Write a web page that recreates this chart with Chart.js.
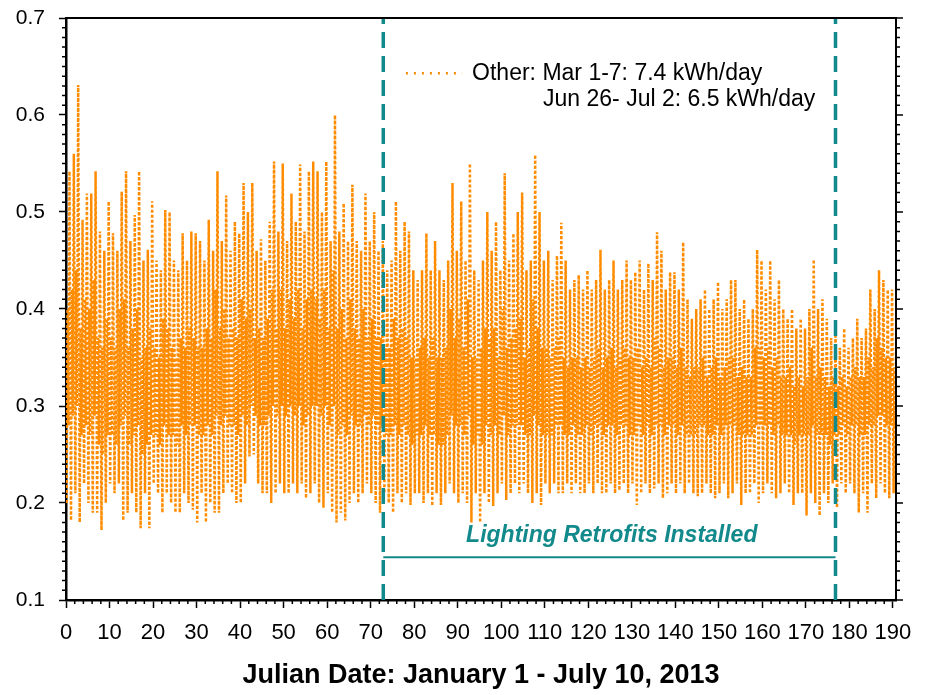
<!DOCTYPE html>
<html>
<head>
<meta charset="utf-8">
<script src="https://cdn.jsdelivr.net/npm/chart.js@4.4.1/dist/chart.umd.min.js"></script>
<style>
  html, body { margin: 0; padding: 0; background: #fff; }
  #wrap { width: 927px; height: 695px; position: relative; }
</style>
</head>
<body>
<div id="wrap"><canvas id="otherChart"></canvas></div>
<script>
// Daily readings (Julian day 0 .. 190), kW
const dayLow = [
  0.200,0.182,0.210,0.180,0.220,0.200,0.190,0.190,0.172,0.200,
  0.220,0.210,0.220,0.182,0.190,0.210,0.190,0.174,0.210,0.174,
  0.220,0.210,0.190,0.210,0.200,0.190,0.190,0.210,0.200,0.193,
  0.180,0.210,0.180,0.200,0.190,0.190,0.210,0.220,0.210,0.200,
  0.200,0.220,0.248,0.250,0.220,0.210,0.210,0.200,0.210,0.220,
  0.210,0.210,0.220,0.210,0.220,0.205,0.210,0.220,0.200,0.195,
  0.210,0.190,0.180,0.190,0.182,0.200,0.210,0.200,0.210,0.220,
  0.210,0.200,0.190,0.210,0.200,0.190,0.210,0.200,0.210,0.198,
  0.210,0.210,0.200,0.210,0.197,0.210,0.198,0.210,0.220,0.210,
  0.200,0.210,0.200,0.180,0.210,0.180,0.210,0.200,0.197,0.210,
  0.220,0.203,0.210,0.220,0.210,0.220,0.210,0.200,0.210,0.198,
  0.220,0.210,0.220,0.210,0.210,0.220,0.210,0.220,0.210,0.210,
  0.220,0.210,0.220,0.210,0.210,0.220,0.210,0.213,0.220,0.210,
  0.220,0.198,0.210,0.220,0.210,0.215,0.220,0.205,0.210,0.220,
  0.210,0.220,0.210,0.220,0.210,0.207,0.210,0.220,0.210,0.205,
  0.210,0.220,0.205,0.210,0.220,0.198,0.210,0.210,0.220,0.200,
  0.210,0.220,0.210,0.205,0.210,0.220,0.210,0.198,0.210,0.210,
  0.187,0.210,0.200,0.187,0.210,0.200,0.220,0.195,0.220,0.210,
  0.220,0.210,0.190,0.210,0.190,0.220,0.205,0.220,0.210,0.205,0.210
];
const dayMorning = [
  0.40,0.42,0.44,0.38,0.41,0.40,0.43,0.37,0.36,0.39,
  0.37,0.36,0.40,0.41,0.36,0.38,0.40,0.35,0.36,0.38,
  0.36,0.35,0.39,0.38,0.36,0.35,0.37,0.36,0.38,0.37,
  0.36,0.36,0.38,0.37,0.42,0.38,0.40,0.37,0.38,0.37,
  0.41,0.39,0.40,0.37,0.38,0.37,0.39,0.42,0.38,0.42,
  0.38,0.41,0.39,0.42,0.38,0.41,0.42,0.41,0.39,0.42,
  0.38,0.44,0.38,0.40,0.37,0.41,0.38,0.37,0.40,0.37,
  0.39,0.37,0.37,0.36,0.36,0.39,0.37,0.38,0.37,0.35,
  0.35,0.36,0.37,0.35,0.37,0.35,0.35,0.36,0.40,0.37,
  0.39,0.36,0.41,0.35,0.35,0.36,0.38,0.37,0.38,0.35,
  0.40,0.36,0.37,0.38,0.39,0.35,0.36,0.41,0.38,0.36,
  0.36,0.35,0.36,0.37,0.35,0.34,0.35,0.35,0.34,0.35,
  0.34,0.35,0.36,0.34,0.35,0.36,0.34,0.35,0.36,0.35,
  0.35,0.36,0.34,0.35,0.34,0.37,0.36,0.34,0.35,0.35,
  0.34,0.36,0.34,0.33,0.34,0.34,0.35,0.33,0.34,0.35,
  0.33,0.34,0.35,0.35,0.33,0.34,0.33,0.33,0.36,0.36,
  0.35,0.36,0.34,0.35,0.33,0.33,0.34,0.32,0.33,0.32,
  0.33,0.36,0.33,0.34,0.33,0.32,0.33,0.32,0.33,0.32,
  0.33,0.34,0.33,0.33,0.35,0.34,0.37,0.36,0.35,0.35,0.34
];
const dayMidday = [
  0.28,0.29,0.30,0.27,0.28,0.27,0.29,0.26,0.25,0.27,
  0.27,0.26,0.28,0.29,0.26,0.27,0.28,0.25,0.26,0.27,
  0.27,0.26,0.28,0.27,0.27,0.26,0.28,0.27,0.28,0.28,
  0.27,0.27,0.28,0.27,0.29,0.28,0.29,0.28,0.28,0.27,
  0.29,0.28,0.30,0.29,0.28,0.28,0.29,0.30,0.29,0.30,
  0.29,0.30,0.29,0.30,0.28,0.29,0.30,0.30,0.29,0.30,
  0.28,0.30,0.27,0.28,0.27,0.29,0.28,0.28,0.29,0.28,
  0.29,0.28,0.28,0.27,0.27,0.28,0.27,0.28,0.27,0.26,
  0.27,0.27,0.28,0.27,0.27,0.26,0.26,0.27,0.29,0.28,
  0.28,0.27,0.29,0.26,0.27,0.26,0.28,0.27,0.28,0.27,
  0.29,0.27,0.28,0.28,0.28,0.27,0.27,0.29,0.28,0.27,
  0.27,0.27,0.28,0.28,0.27,0.27,0.28,0.27,0.27,0.28,
  0.27,0.28,0.28,0.27,0.28,0.28,0.27,0.28,0.28,0.27,
  0.27,0.28,0.27,0.28,0.27,0.28,0.28,0.27,0.28,0.28,
  0.27,0.28,0.27,0.27,0.27,0.28,0.28,0.27,0.27,0.28,
  0.27,0.28,0.28,0.28,0.27,0.27,0.27,0.27,0.28,0.28,
  0.28,0.28,0.27,0.28,0.27,0.27,0.27,0.26,0.27,0.27,
  0.27,0.28,0.27,0.27,0.27,0.26,0.27,0.27,0.28,0.27,
  0.28,0.28,0.27,0.27,0.28,0.28,0.29,0.29,0.28,0.28,0.28
];
const dayHigh = [
  0.542,0.560,0.631,0.492,0.519,0.519,0.542,0.480,0.460,0.511,
  0.478,0.460,0.521,0.542,0.470,0.497,0.542,0.450,0.461,0.511,
  0.450,0.440,0.502,0.500,0.450,0.440,0.478,0.450,0.480,0.478,
  0.470,0.450,0.492,0.460,0.542,0.470,0.517,0.460,0.490,0.478,
  0.530,0.500,0.530,0.460,0.472,0.450,0.490,0.552,0.480,0.550,
  0.470,0.519,0.490,0.549,0.480,0.542,0.552,0.542,0.500,0.552,
  0.470,0.600,0.480,0.509,0.470,0.528,0.470,0.460,0.519,0.470,
  0.500,0.460,0.470,0.440,0.450,0.511,0.460,0.490,0.480,0.440,
  0.430,0.440,0.478,0.440,0.470,0.440,0.430,0.450,0.530,0.460,
  0.511,0.450,0.550,0.440,0.430,0.450,0.500,0.460,0.490,0.440,
  0.540,0.450,0.478,0.500,0.520,0.440,0.450,0.559,0.500,0.450,
  0.460,0.430,0.455,0.489,0.450,0.420,0.430,0.435,0.420,0.440,
  0.420,0.430,0.461,0.420,0.430,0.450,0.420,0.430,0.450,0.430,
  0.438,0.450,0.420,0.447,0.430,0.479,0.460,0.420,0.438,0.438,
  0.420,0.469,0.410,0.390,0.400,0.410,0.420,0.400,0.410,0.428,
  0.400,0.410,0.430,0.430,0.400,0.410,0.390,0.400,0.461,0.450,
  0.420,0.450,0.410,0.430,0.400,0.390,0.400,0.380,0.390,0.380,
  0.400,0.451,0.400,0.410,0.390,0.370,0.380,0.360,0.380,0.360,
  0.370,0.390,0.370,0.380,0.420,0.400,0.440,0.430,0.420,0.420,0.400
];

// reading order within each day: night low, morning, midday, evening peak
const dayFractions = [0.15, 0.35, 0.55, 0.8];

const retrofitDays = [72.9, 176.8];
const retrofitBarLevel = 0.144;

const yTicks = [0.1, 0.2, 0.3, 0.4, 0.5, 0.6, 0.7];
const xMax = 190.7;

const legendLines = ['Other: Mar 1-7: 7.4 kWh/day', 'Jun 26- Jul 2: 6.5 kWh/day'];
const retrofitLabel = 'Lighting Retrofits Installed';
const xTitle = 'Julian Date: January 1 - July 10, 2013';

const ORANGE = '#FF8C00';
const TEAL = '#12898A';
const FONT = '"Liberation Sans", Arial, sans-serif';

const series = [];
dayHigh.forEach((_, d) => {
    const vals = [dayLow[d], dayMorning[d], dayMidday[d], dayHigh[d]];
    vals.forEach((v, k) => series.push({ x: d + dayFractions[k], y: v }));
});

// minor ticks, right-hand axis ticks, frame and the text notes
const decorations = {
    id: 'decorations',
    afterDraw(chart) {
        const { ctx, chartArea: a, scales: { x, y } } = chart;
        ctx.save();
        ctx.strokeStyle = '#000';
        ctx.lineWidth = 2;
        ctx.beginPath();
        ctx.moveTo(a.left, a.top);
        ctx.lineTo(a.right, a.top);
        ctx.lineTo(a.right, a.bottom);
        ctx.stroke();

        ctx.lineWidth = 1.5;
        ctx.beginPath();
        for (let v = 2; v <= 190; v += 2) {
            if (v % 10 === 0) continue;
            const px = x.getPixelForValue(v);
            ctx.moveTo(px, a.bottom);
            ctx.lineTo(px, a.bottom + 4);
        }
        for (let i = 0; i <= 60; i++) {
            const py = y.getPixelForValue(yTicks[0] + i / 100);
            const len = i % 10 === 0 ? 7 : 4;
            if (i % 10 !== 0) {
                ctx.moveTo(a.left - 4, py);
                ctx.lineTo(a.left, py);
            }
            ctx.moveTo(a.right, py);
            ctx.lineTo(a.right + len, py);
        }
        ctx.stroke();

        // legend
        ctx.strokeStyle = ORANGE;
        ctx.lineWidth = 2.5;
        ctx.setLineDash([2, 6]);
        ctx.beginPath();
        ctx.moveTo(x.getPixelForValue(78.1), y.getPixelForValue(0.643));
        ctx.lineTo(x.getPixelForValue(91.0), y.getPixelForValue(0.643));
        ctx.stroke();
        ctx.setLineDash([]);

        ctx.fillStyle = '#000';
        ctx.font = '23px ' + FONT;
        ctx.textBaseline = 'middle';
        ctx.textAlign = 'left';
        ctx.fillText(legendLines[0], x.getPixelForValue(93.3), y.getPixelForValue(0.643));
        ctx.fillText(legendLines[1], x.getPixelForValue(109.6), y.getPixelForValue(0.616));

        ctx.fillStyle = TEAL;
        ctx.font = 'italic bold 23px ' + FONT;
        ctx.textAlign = 'center';
        ctx.fillText(retrofitLabel, x.getPixelForValue(125.4), y.getPixelForValue(0.166));
        ctx.restore();
    }
};

document.addEventListener('DOMContentLoaded', () => {
    const otherChart = new Chart(
        document.getElementById('otherChart'),
        {
            type: 'line',
            data: {
                datasets: [
                    {
                        label: 'Other',
                        data: series,
                        borderColor: ORANGE,
                        borderWidth: 2.5,
                        borderDash: [3, 2],
                        pointRadius: 0,
                        tension: 0,
                        order: 2,
                    },
                    ...retrofitDays.map(d => ({
                        data: [{ x: d, y: yTicks[0] }, { x: d, y: yTicks[yTicks.length - 1] }],
                        borderColor: TEAL,
                        borderWidth: 3.5,
                        borderDash: [16, 8],
                        pointRadius: 0,
                        order: 0,
                    })),
                    {
                        data: retrofitDays.map(d => ({ x: d, y: retrofitBarLevel })),
                        borderColor: TEAL,
                        borderWidth: 2,
                        pointRadius: 0,
                        order: 1,
                    }
                ]
            },
            options: {
                responsive: true,
                maintainAspectRatio: false,
                animation: false,
                layout: { padding: { top: 18, left: 0, right: 31, bottom: 0 } },
                plugins: {
                    legend: { display: false },
                    tooltip: { enabled: false },
                },
                scales: {
                    x: {
                        type: 'linear',
                        min: 0,
                        max: xMax,
                        afterFit: s => { s.height = 95; s.paddingRight = 0; s.paddingLeft = 0; },
                        border: { color: '#000', width: 2.5 },
                        grid: { drawOnChartArea: false, tickLength: 8, tickWidth: 1.5, tickColor: '#000' },
                        ticks: {
                            stepSize: 10,
                            includeBounds: false,
                            maxRotation: 0,
                            autoSkip: false,
                            padding: 12,
                            color: '#000',
                            font: { family: FONT, size: 22 },
                        },
                        title: {
                            display: true,
                            text: xTitle,
                            color: '#000',
                            font: { family: FONT, size: 27, weight: 'bold' },
                            padding: { top: 0, bottom: 3 },
                        },
                    },
                    y: {
                        min: yTicks[0],
                        max: yTicks[yTicks.length - 1],
                        afterFit: s => { s.width = 66; s.paddingTop = 0; s.paddingBottom = 0; },
                        afterBuildTicks: s => { s.ticks = yTicks.map(v => ({ value: v })); },
                        border: { color: '#000', width: 2.5 },
                        grid: { drawOnChartArea: false, tickLength: 7, tickWidth: 1.5, tickColor: '#000' },
                        ticks: {
                            padding: 14,
                            color: '#000',
                            font: { family: FONT, size: 21 },
                            callback: v => v.toFixed(1),
                        },
                    },
                }
            },
            plugins: [decorations]
        }
    );
});
</script>
</body>
</html>
